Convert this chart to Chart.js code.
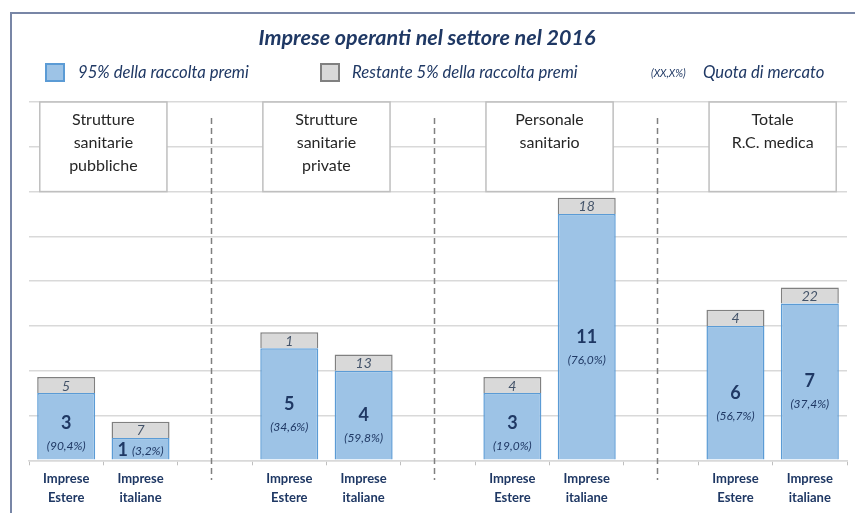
<!DOCTYPE html>
<html lang="it">
<head>
  <meta charset="UTF-8">
  <title>Imprese operanti nel settore nel 2016</title>
  <script src="https://cdn.jsdelivr.net/npm/chart.js"></script>
  <style>
    html, body { margin: 0; padding: 0; background: #ffffff; }
    #wrap { width: 855px; height: 513px; position: relative; }
  </style>
</head>
<body>
  <div id="wrap"><canvas id="grafico"></canvas></div>

  <script>
    // dati
    const categorie = [
      ['Imprese', 'Estere'], ['Imprese', 'italiane'], '',
      ['Imprese', 'Estere'], ['Imprese', 'italiane'], '',
      ['Imprese', 'Estere'], ['Imprese', 'italiane'], '',
      ['Imprese', 'Estere'], ['Imprese', 'italiane']
    ];
    const gruppi = [
      ['Strutture', 'sanitarie', 'pubbliche'],
      ['Strutture', 'sanitarie', 'private'],
      ['Personale', 'sanitario'],
      ['Totale', 'R.C. medica']
    ];
    const imprese95 = [3, 1, null, 5, 4, null, 3, 11, null, 6, 7];
    const quote = ['(90,4%)', '(3,2%)', null, '(34,6%)', '(59,8%)', null, '(19,0%)', '(76,0%)', null, '(56,7%)', '(37,4%)'];
    const impreseRestanti = [5, 7, null, 1, 13, null, 4, 18, null, 4, 22];
    // la fascia grigia ha altezza fissa nel grafico originale
    const fasciaGrigia = 0.72;

    const navy = '#1f3864';
    const font = 'Lato, "Open Sans", sans-serif';

    const decorazioni = {
      id: 'decorazioni',
      beforeDatasetsDraw(chart) {
        const ctx = chart.ctx;
        const x = chart.scales.x, y = chart.scales.y;
        ctx.save();
        // linee tratteggiate tra i gruppi
        ctx.strokeStyle = '#808080';
        ctx.lineWidth = 1.5;
        ctx.setLineDash([6, 4]);
        [2, 5, 8].forEach(i => {
          const px = Math.round(x.getPixelForValue(i)) - 3.5;
          ctx.beginPath();
          ctx.moveTo(px, 118);
          ctx.lineTo(px, 480);
          ctx.stroke();
        });
        ctx.setLineDash([]);
        // riquadri dei gruppi
        const w = x.getPixelForValue(1) - x.getPixelForValue(0);
        const top = y.getPixelForValue(16), bottom = y.getPixelForValue(12);
        gruppi.forEach((righe, g) => {
          const cx = (x.getPixelForValue(g * 3) + x.getPixelForValue(g * 3 + 1)) / 2;
          const bw = w * 1.71;
          ctx.fillStyle = '#ffffff';
          ctx.fillRect(cx - bw / 2, top, bw, bottom - top);
          ctx.strokeStyle = '#bfbfbf';
          ctx.lineWidth = 1.5;
          ctx.strokeRect(cx - bw / 2, top, bw, bottom - top);
          ctx.fillStyle = '#262626';
          ctx.font = '16px ' + font;
          ctx.textAlign = 'center';
          ctx.textBaseline = 'middle';
          righe.forEach((r, k) => ctx.fillText(r, cx, top + 18 + k * 23));
        });
        ctx.restore();
      },
      afterDatasetsDraw(chart) {
        const ctx = chart.ctx;
        const blu = chart.getDatasetMeta(0).data;
        const grigi = chart.getDatasetMeta(1).data;
        ctx.save();
        ctx.textAlign = 'center';
        ctx.textBaseline = 'middle';
        imprese95.forEach((v, i) => {
          if (v == null) return;
          const b = blu[i];
          const h = b.base - b.y;
          const cy = (b.y + b.base) / 2;
          const numFont = 'bold 18px ' + font;
          const pctFont = 'italic 12px ' + font;
          ctx.fillStyle = navy;
          if (h < 30) {
            ctx.font = numFont;
            const wn = ctx.measureText(String(v)).width;
            ctx.font = pctFont;
            const wp = ctx.measureText(quote[i]).width;
            const start = b.x - (wn + 4 + wp) / 2;
            ctx.textAlign = 'left';
            ctx.font = numFont;
            ctx.fillText(String(v), start, cy + 1);
            ctx.font = pctFont;
            ctx.fillText(quote[i], start + wn + 4, cy + 2);
            ctx.textAlign = 'center';
          } else {
            const py = Math.min(cy + 23, b.base - 13);
            const ny = Math.min(cy, py - 23);
            ctx.font = numFont;
            ctx.fillText(String(v), b.x, ny);
            ctx.font = pctFont;
            ctx.fillText(quote[i], b.x, py);
          }
          const g = grigi[i];
          ctx.fillStyle = '#44546a';
          ctx.font = 'italic 14px ' + font;
          ctx.fillText(String(impreseRestanti[i]), g.x, (g.y + g.base) / 2 + 1);
        });
        ctx.restore();
      },
      afterDraw(chart) {
        const ctx = chart.ctx;
        ctx.save();
        // cornice
        ctx.strokeStyle = '#7886a6';
        ctx.lineWidth = 2;
        ctx.beginPath();
        ctx.moveTo(11, 513);
        ctx.lineTo(11, 13);
        ctx.lineTo(855, 13);
        ctx.stroke();
        // titolo
        ctx.fillStyle = navy;
        ctx.textAlign = 'center';
        ctx.textBaseline = 'middle';
        ctx.font = 'italic bold 21.5px ' + font;
        ctx.fillText('Imprese operanti nel settore nel 2016', 427, 38);
        // legenda
        ctx.lineWidth = 2;
        ctx.fillStyle = '#9dc3e6';
        ctx.strokeStyle = '#5b9bd5';
        ctx.fillRect(46, 64, 18, 17);
        ctx.strokeRect(46, 64, 18, 17);
        ctx.fillStyle = '#d9d9d9';
        ctx.strokeStyle = '#808080';
        ctx.fillRect(321, 64, 18, 17);
        ctx.strokeRect(321, 64, 18, 17);
        ctx.fillStyle = navy;
        ctx.textAlign = 'left';
        ctx.font = 'italic 16.7px ' + font;
        ctx.fillText('95% della raccolta premi', 78, 73);
        ctx.fillText('Restante 5% della raccolta premi', 352, 73);
        ctx.fillText('Quota di mercato', 703, 73);
        ctx.font = 'italic 10.5px ' + font;
        ctx.fillText('(XX,X%)', 651, 74);
        ctx.restore();
      }
    };

    new Chart(document.getElementById('grafico'), {
      type: 'bar',
      data: {
        labels: categorie,
        datasets: [
          {
            label: '95% della raccolta premi',
            data: imprese95,
            backgroundColor: '#9dc3e6',
            borderColor: '#5b9bd5',
            borderWidth: 1.5,
            borderSkipped: 'bottom'
          },
          {
            label: 'Restante 5% della raccolta premi',
            data: impreseRestanti.map(v => v == null ? null : fasciaGrigia),
            backgroundColor: '#d9d9d9',
            borderColor: '#808080',
            borderWidth: 1.5
          }
        ]
      },
      options: {
        responsive: true,
        maintainAspectRatio: false,
        animation: false,
        barPercentage: 0.78,
        categoryPercentage: 1,
        layout: { padding: { left: 29, right: 8, top: 102, bottom: 2 } },
        plugins: {
          legend: { display: false },
          title: { display: false },
          tooltip: { enabled: false }
        },
        scales: {
          x: {
            stacked: true,
            grid: {
              offset: true,
              drawOnChartArea: false,
              tickLength: 5,
              color: '#bfbfbf'
            },
            border: { color: '#d9d9d9', width: 1.5 },
            ticks: {
              color: navy,
              font: { family: font, weight: 'bold', size: 13, lineHeight: 1.45 },
              padding: 4,
              maxRotation: 0,
              autoSkip: false
            }
          },
          y: {
            stacked: true,
            min: 0,
            max: 16,
            ticks: { display: false, stepSize: 2 },
            grid: { color: '#d9d9d9', lineWidth: 1.5, drawTicks: false },
            border: { display: false }
          }
        }
      },
      plugins: [decorazioni]
    });
  </script>
</body>
</html>
